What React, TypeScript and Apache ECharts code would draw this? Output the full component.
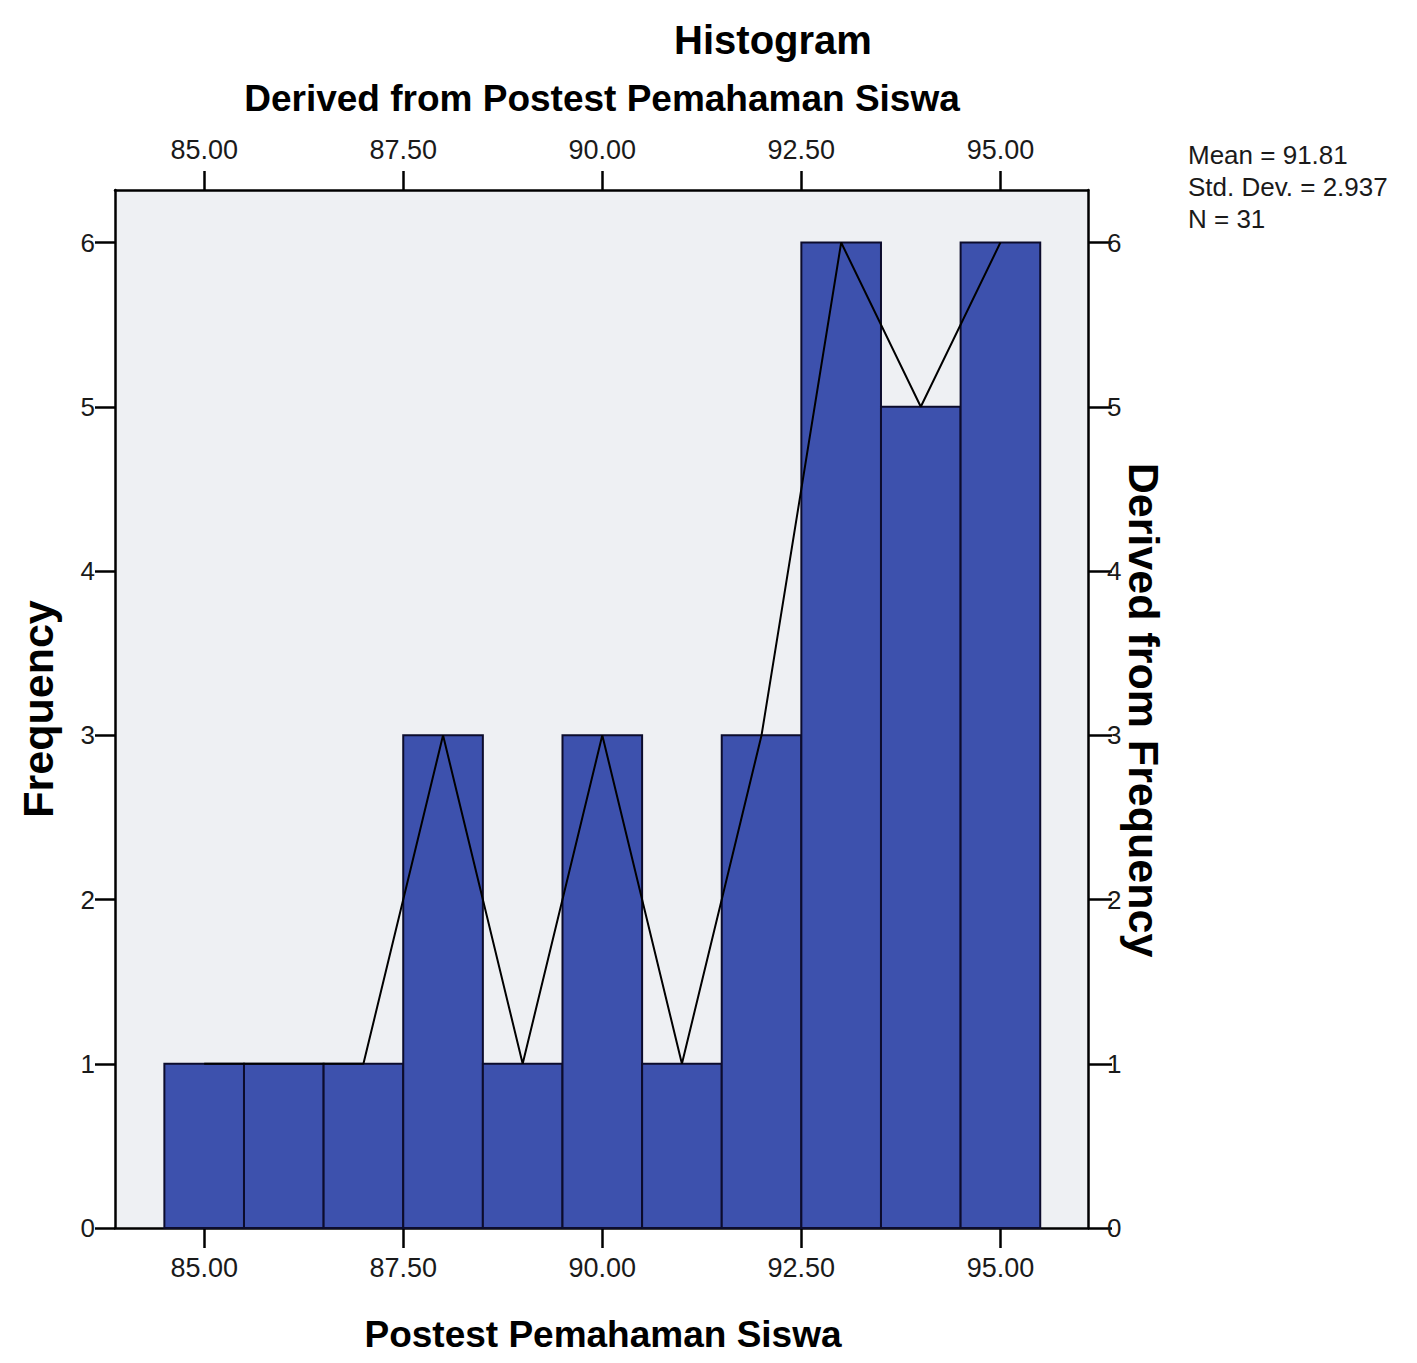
import React, { useEffect, useRef } from "react";
import * as echarts from "echarts";

const binCenters = [85, 86, 87, 88, 89, 90, 91, 92, 93, 94, 95];
const frequencies = [1, 1, 1, 3, 1, 3, 1, 3, 6, 5, 6];
const xTickValues = [85, 87.5, 90, 92.5, 95];
const yTickValues = [0, 1, 2, 3, 4, 5, 6];
const statLines = ["Mean = 91.81", "Std. Dev. = 2.937", "N = 31"];

const FONT = "'Liberation Sans', Arial, sans-serif";

export default function App() {
  const ref = useRef<HTMLDivElement>(null);
  useEffect(() => {
    if (!ref.current) return;
    const chart = echarts.init(ref.current, null, { renderer: "svg" });
    const pts = binCenters.map((v, i) => [v, frequencies[i]]);
    const xAxisBase = (position: string, margin: number, tickLen: number) => ({
      type: "value",
      position,
      min: 83.88,
      max: 96.1,
      axisLine: { show: true, onZero: false, lineStyle: { color: "#000", width: 2.5 } },
      axisTick: { show: true, length: tickLen, lineStyle: { color: "#000", width: 2.5 }, customValues: xTickValues },
      axisLabel: {
        show: true,
        margin,
        fontSize: 27,
        fontFamily: FONT,
        color: "#1a1a1a",
        customValues: xTickValues,
        formatter: (v: number) => v.toFixed(2),
      },
      splitLine: { show: false },
    });
    const yAxisBase = (position: string, margin: number, tickLen: number) => ({
      type: "value",
      position,
      min: 0,
      max: 6.32,
      axisLine: { show: true, onZero: false, lineStyle: { color: "#000", width: 2.5 } },
      axisTick: { show: true, length: tickLen, lineStyle: { color: "#000", width: 2.5 }, customValues: yTickValues },
      axisLabel: {
        show: true,
        margin,
        fontSize: 26,
        fontFamily: FONT,
        color: "#1a1a1a",
        customValues: yTickValues,
        formatter: (v: number) => String(Math.round(v)),
      },
      splitLine: { show: false },
    });
    const option: any = {
      animation: false,
      backgroundColor: "#ffffff",
      grid: {
        left: 115,
        right: 329,
        top: 190,
        bottom: 135,
        show: true,
        backgroundColor: "#eef0f3",
        borderWidth: 0,
      },
      xAxis: [xAxisBase("bottom", 26, 20), xAxisBase("top", 27, 19)],
      yAxis: [yAxisBase("left", 20, 20), yAxisBase("right", 19, 24)],
      series: [
        {
          type: "custom",
          xAxisIndex: 0,
          yAxisIndex: 0,
          data: pts,
          z: 2,
          renderItem: (params: any, api: any) => {
            const x = api.value(0);
            const f = api.value(1);
            const p0 = api.coord([x - 0.5, f]);
            const p1 = api.coord([x + 0.5, 0]);
            return {
              type: "rect",
              shape: { x: p0[0], y: p0[1], width: p1[0] - p0[0], height: p1[1] - p0[1] },
              style: { fill: "#3d51ad", stroke: "#0c0c2c", lineWidth: 2 },
            };
          },
        },
        {
          type: "line",
          xAxisIndex: 0,
          yAxisIndex: 0,
          data: pts,
          z: 3,
          symbol: "none",
          lineStyle: { color: "#000", width: 2 },
        },
      ],
      graphic: [
        {
          type: "text",
          x: 773,
          y: 40,
          style: { text: "Histogram", font: `bold 40px ${FONT}`, fill: "#000", textAlign: "center", textVerticalAlign: "middle" },
        },
        {
          type: "text",
          x: 602,
          y: 98,
          style: {
            text: "Derived from Postest Pemahaman Siswa",
            font: `bold 37px ${FONT}`,
            fill: "#000",
            textAlign: "center",
            textVerticalAlign: "middle",
          },
        },
        {
          type: "text",
          x: 603,
          y: 1334,
          style: {
            text: "Postest Pemahaman Siswa",
            font: `bold 37px ${FONT}`,
            fill: "#000",
            textAlign: "center",
            textVerticalAlign: "middle",
          },
        },
        {
          type: "text",
          x: 38,
          y: 709,
          rotation: Math.PI / 2,
          style: { text: "Frequency", font: `bold 43px ${FONT}`, fill: "#000", textAlign: "center", textVerticalAlign: "middle" },
        },
        {
          type: "text",
          x: 1144,
          y: 710,
          rotation: -Math.PI / 2,
          style: {
            text: "Derived from Frequency",
            font: `bold 43px ${FONT}`,
            fill: "#000",
            textAlign: "center",
            textVerticalAlign: "middle",
          },
        },
        ...statLines.map((t, i) => ({
          type: "text",
          x: 1188,
          y: [155, 187, 218.5][i],
          style: { text: t, font: `26px ${FONT}`, fill: "#1a1a1a", textAlign: "left", textVerticalAlign: "middle" },
        })),
      ],
    };
    chart.setOption(option);
    return () => chart.dispose();
  }, []);
  return (
    <div
      ref={ref}
      style={{ position: "fixed", left: 0, top: 0, width: 1417, height: 1363, background: "#fff" }}
    />
  );
}
